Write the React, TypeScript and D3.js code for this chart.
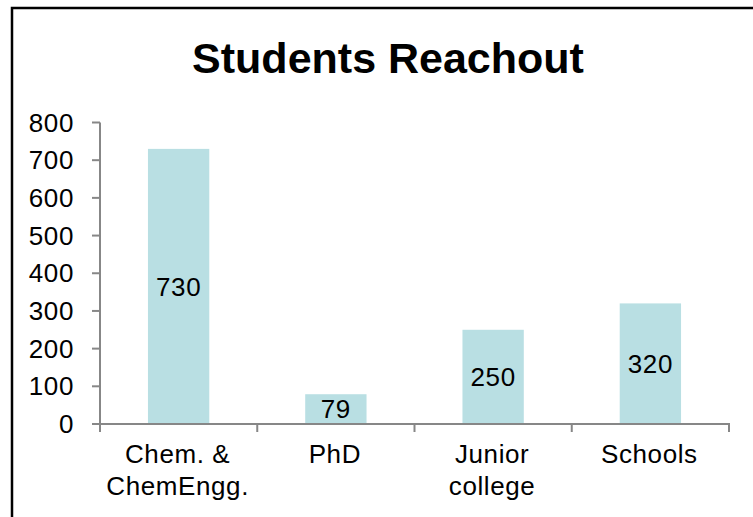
import React from "react";
import * as d3 from "d3";

const categories: string[][] = [["Chem. &", "ChemEngg."], ["PhD"], ["Junior", "college"], ["Schools"]];
const values: number[] = [730, 79, 250, 320];
const yTicks: number[] = [0, 100, 200, 300, 400, 500, 600, 700, 800];
const title = "Students Reachout";

const W = 753;
const H = 517;
const left = 100;
const right = 729;
const top = 122.5;
const bottom = 424;
const FONT = "'Liberation Sans', Arial, sans-serif";
const AXIS = "#878787";
const BAR = "#b9dfe3";
const LS = 0.6;

export default function App() {
  const keys = categories.map((c) => c.join(" "));
  const x = d3.scaleBand<string>().domain(keys).range([left, right]).paddingInner(0.61).paddingOuter(0.305);
  const y = d3.scaleLinear().domain([0, 800]).range([bottom, top]);
  const step = x.step();
  const boundaries = d3.range(keys.length + 1).map((i) => left + i * step);

  return (
    <svg width={W} height={H} style={{ position: "absolute", left: 0, top: 0, background: "#fff" }} fontFamily={FONT}>
      <rect x={0} y={0} width={W} height={H} fill="#fff" />
      <rect x={12} y={8} width={W + 20} height={H + 20} fill="none" stroke="#000" strokeWidth={2.5} />
      <text x={388} y={73} textAnchor="middle" fontSize={43} fontWeight="bold" fill="#000">
        {title}
      </text>
      {values.map((v, i) => (
        <rect key={i} x={x(keys[i])} y={y(v)} width={x.bandwidth()} height={y(0) - y(v)} fill={BAR} />
      ))}
      {/* y axis */}
      <line x1={left} x2={left} y1={top} y2={bottom} stroke={AXIS} strokeWidth={2} />
      {yTicks.map((t) => (
        <g key={t}>
          <line x1={left - 8} x2={left} y1={y(t)} y2={y(t)} stroke={AXIS} strokeWidth={2} />
          <text x={74} y={y(t)} dy="0.35em" textAnchor="end" fontSize={26} letterSpacing={LS} fill="#000">
            {t}
          </text>
        </g>
      ))}
      {/* x axis */}
      <line x1={left - 8} x2={right + 1} y1={bottom} y2={bottom} stroke={AXIS} strokeWidth={2} />
      {boundaries.map((b, i) => (
        <line key={i} x1={b} x2={b} y1={bottom} y2={bottom + 8} stroke={AXIS} strokeWidth={2} />
      ))}
      {categories.map((lines, i) => {
        const cx = (x(keys[i]) ?? 0) + x.bandwidth() / 2 - 1;
        return (
          <text key={i} x={cx} textAnchor="middle" fontSize={26} letterSpacing={LS} fill="#000">
            {lines.map((l, j) => (
              <tspan key={j} x={cx} y={463 + j * 32}>
                {l}
              </tspan>
            ))}
          </text>
        );
      })}
      {values.map((v, i) => (
        <text
          key={i}
          x={(x(keys[i]) ?? 0) + x.bandwidth() / 2}
          y={(y(v) + y(0)) / 2}
          dy="0.35em"
          textAnchor="middle"
          fontSize={26}
          letterSpacing={LS}
          fill="#000"
        >
          {v}
        </text>
      ))}
    </svg>
  );
}
